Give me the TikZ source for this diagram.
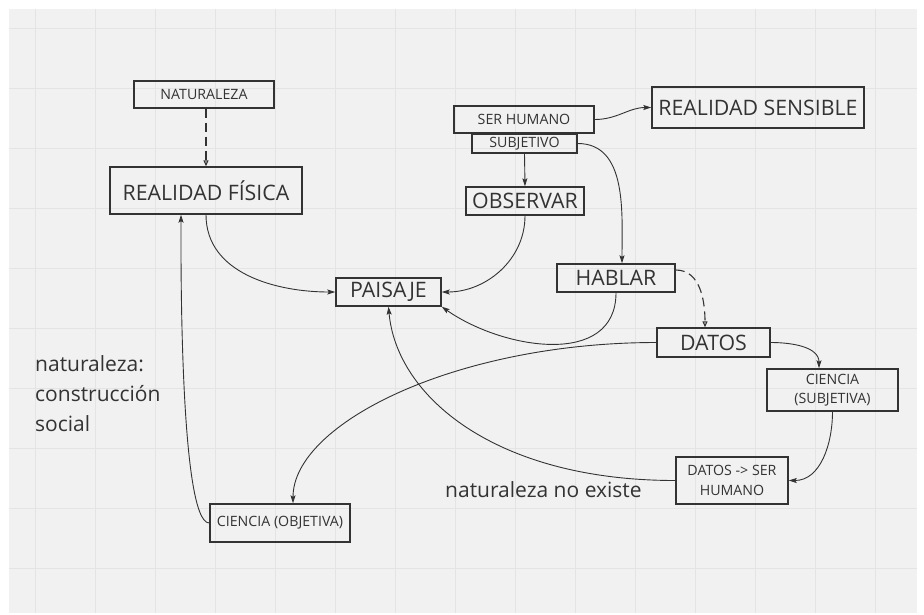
\documentclass[tikz,border=0pt]{standalone}
\usepackage{fontspec}
\setmainfont{Open Sans}
\usetikzlibrary{arrows.meta,positioning}
\definecolor{canvas}{HTML}{F1F1F1}
\definecolor{gridline}{HTML}{E4E4E4}
\definecolor{ink}{HTML}{333333}

\begin{document}
\begin{tikzpicture}[x=1pt,y=1pt,>={Stealth[length=8pt,width=5pt,inset=1.5pt]},
  bigbox/.style={draw=ink,line width=1.4pt,text=ink,inner sep=0pt,font=\fontsize{21.3}{24}\selectfont},
  smallbox/.style={draw=ink,line width=1.4pt,text=ink,inner sep=0pt,align=center,font=\fontsize{14.2}{19.5}\selectfont},
  sidetext/.style={text=ink,inner sep=0pt,align=left,font=\fontsize{21}{30}\selectfont},
  link/.style={->,draw=ink,line width=0.9pt},
  dashlink/.style={-{Triangle[open,length=6pt,width=5pt]},draw=ink,line width=1.1pt,dash pattern=on 9pt off 5pt}]
\useasboundingbox (0,0) rectangle (924,-614);
\fill[canvas] (9,-9) rectangle (917,-613);
\foreach \gx in {35,95,...,875} \draw[gridline,line width=0.8pt] (\gx,-9) -- (\gx,-613);
\foreach \gy in {28,88,...,568} \draw[gridline,line width=0.8pt] (9,-\gy) -- (917,-\gy);

\node[smallbox,minimum width=140pt,minimum height=27pt] (nat) at (204,-94.5) {NATURALEZA};
\node[bigbox,minimum width=192pt,minimum height=47pt] (rfis) at (206,-190.5) {REALIDAD FÍSICA};
\node[smallbox,minimum width=140pt,minimum height=27pt] (serh) at (524,-119.5) {SER HUMANO};
\node[smallbox,minimum width=105pt,minimum height=19pt] (subj) at (524.5,-143.5) {SUBJETIVO};
\node[bigbox,minimum width=212pt,minimum height=41pt] (rsens) at (758,-107.5) {REALIDAD SENSIBLE};
\node[bigbox,minimum width=118pt,minimum height=28pt] (obs) at (525,-201) {OBSERVAR};
\node[bigbox,minimum width=118pt,minimum height=28pt] (hablar) at (616,-278) {HABLAR};
\node[bigbox,minimum width=105pt,minimum height=28pt] (paisaje) at (388.5,-292) {PAISAJE};
\node[bigbox,minimum width=113pt,minimum height=29pt] (datos) at (713.5,-342.5) {DATOS};
\node[smallbox,minimum width=131pt,minimum height=42pt] (csubj) at (832.5,-390) {CIENCIA\\(SUBJETIVA)};
\node[smallbox,minimum width=112pt,minimum height=47pt] (dsh) at (732,-480.5) {DATOS -> SER\\HUMANO};
\node[smallbox,minimum width=140pt,minimum height=38pt] (cobj) at (280,-523) {CIENCIA (OBJETIVA)};

\node[sidetext,anchor=north west] (nota) at (35,-355) {naturaleza:\\construcción\\social};
\node[sidetext,anchor=base west] (noexiste) at (445,-497) {naturaleza no existe};

\draw[dashlink] (nat.south -| rfis.north) -- (rfis.north);
\draw[link] (rfis.south) to[out=-90,in=180] (paisaje.west);
\draw[link] (obs.south) to[out=-90,in=0] (paisaje.east);
\draw[link] (serh.east) to[out=0,in=180] (rsens.west);
\draw[link] (subj.south) -- (obs.north);
\draw[link] (subj.east) to[out=0,in=90] ([xshift=6pt]hablar.north);
\draw[link] (hablar.south) to[out=-90,in=-35,looseness=1.1] (paisaje.south east);
\draw[dashlink] ([yshift=8pt]hablar.east) to[out=0,in=90] ([xshift=-8.5pt]datos.north);
\draw[link] (datos.east) to[out=0,in=90] ([xshift=-13.5pt]csubj.north);
\draw[link] (csubj.south) to[out=-90,in=0] (dsh.east);
\draw[link] (dsh.west) to[out=180,in=-85,out distance=180pt,in distance=90pt] (paisaje.south);
\draw[link] (datos.west) to[out=180,in=90,out distance=200pt,in distance=80pt] ([xshift=13pt]cobj.north);
\draw[link] (cobj.west) to[out=180,in=-90,looseness=0.25] ([xshift=-25pt]rfis.south);
\end{tikzpicture}
\end{document}
